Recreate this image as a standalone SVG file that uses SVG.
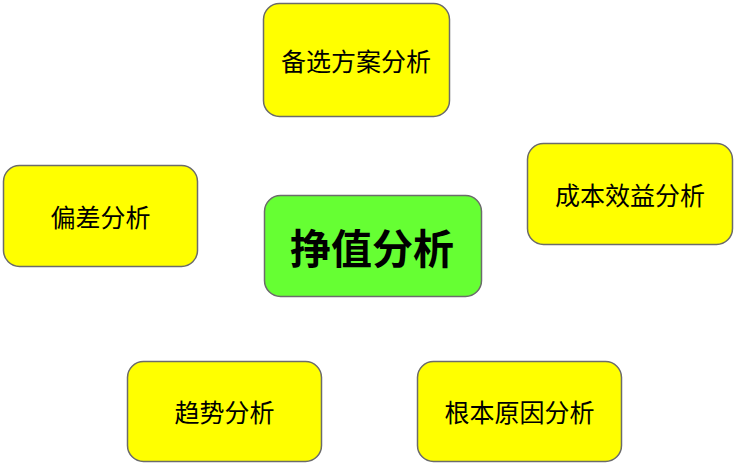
<svg xmlns="http://www.w3.org/2000/svg" width="736" height="468" viewBox="0 0 736 468">
<style>
.box{fill:#ffff00;stroke:#6b6b6b;stroke-width:1.5}
.main{fill:#66ff33;stroke:#6b6b6b;stroke-width:1.5}
.t{font-family:"Noto Sans CJK SC","Noto Sans",sans-serif;font-size:25px;fill:#000;text-anchor:middle;dominant-baseline:central}
.tm{font-family:"Noto Sans CJK SC","Noto Sans",sans-serif;font-size:41px;font-weight:bold;fill:#000;text-anchor:middle;dominant-baseline:central}
</style>
<rect width="736" height="468" fill="#ffffff"/>
<g id="connectors"></g>
<g id="n-top"><rect class="box" x="263.5" y="3.5" width="186" height="113" rx="16"/><text class="t" x="356" y="60">备选方案分析</text></g>
<g id="n-center"><rect class="main" x="264.5" y="195.5" width="217" height="101" rx="16"/><text class="tm" x="372" y="246">挣值分析</text></g>
<g id="n-left"><rect class="box" x="3.5" y="165.5" width="194" height="101" rx="16"/><text class="t" x="100.5" y="216">偏差分析</text></g>
<g id="n-right"><rect class="box" x="527.5" y="143.5" width="205" height="101" rx="16"/><text class="t" x="630" y="194">成本效益分析</text></g>
<g id="n-bl"><rect class="box" x="127.5" y="361.5" width="194" height="100" rx="16"/><text class="t" x="224.5" y="411">趋势分析</text></g>
<g id="n-br"><rect class="box" x="417.5" y="361.5" width="204" height="100" rx="16"/><text class="t" x="519.5" y="411">根本原因分析</text></g>
</svg>
